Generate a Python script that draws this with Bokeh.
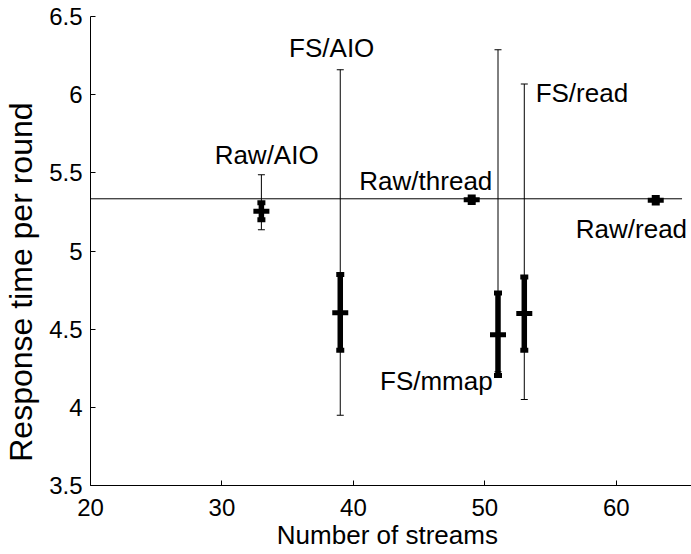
from bokeh.plotting import figure
from bokeh.models import ColumnDataSource, LabelSet, FixedTicker, Range1d
from bokeh.core.properties import value
from bokeh.embed import file_html
from bokeh.resources import INLINE

# ---- data ----
methods = ["Raw/AIO", "FS/AIO", "Raw/thread", "FS/mmap", "FS/read", "Raw/read"]
streams = [33, 39, 49, 51, 53, 63]
mean_time = [5.255, 4.605, 5.328, 4.465, 4.600, 5.325]
min_time = [5.136, 3.950, 5.312, 4.227, 4.050, 5.308]
max_time = [5.487, 6.160, 5.344, 6.287, 6.068, 5.342]
std_low = [5.200, 4.365, 5.310, 4.204, 4.365, 5.307]
std_high = [5.308, 4.849, 5.346, 4.731, 4.833, 5.343]
reference_time = 5.334
reference_x = [20, 65]

x_ticks = [20, 30, 40, 50, 60]
y_ticks = [3.5, 4, 4.5, 5, 5.5, 6, 6.5]

# label anchor positions (data units)
label_x = [33.4, 38.35, 45.51, 46.31, 57.38, 61.15]
label_y = [5.557, 6.238, 5.391, 4.114, 5.951, 5.085]

src = ColumnDataSource(dict(
    x=streams, mean=mean_time, lo=min_time, hi=max_time,
    slo=std_low, shi=std_high,
))
lab_src = ColumnDataSource(dict(x=label_x, y=label_y, text=methods))

p = figure(width=691, height=554, output_backend="svg", toolbar_location=None,
           x_range=Range1d(20, 65.72), y_range=Range1d(3.5, 6.5),
           min_border_left=88, min_border_right=0, min_border_top=16,
           min_border_bottom=69)
p.outline_line_color = None
p.grid.visible = False
p.background_fill_color = "white"
p.border_fill_color = "white"

FONT = "Liberation Sans"
for ax in (p.xaxis[0], p.yaxis[0]):
    ax.major_tick_in = 5
    ax.major_tick_out = 0
    ax.minor_tick_line_color = None
    ax.axis_line_color = "black"
    ax.major_tick_line_color = "black"
    ax.major_label_text_font = FONT
    ax.major_label_text_font_size = "24px"
    ax.major_label_text_color = "black"
    ax.axis_label_text_font = FONT
    ax.axis_label_text_font_style = "normal"
    ax.axis_label_text_color = "black"

p.xaxis.ticker = FixedTicker(ticks=x_ticks)
p.yaxis.ticker = FixedTicker(ticks=y_ticks)
p.xaxis.major_label_overrides = {t: f"{t:g}" for t in x_ticks}
p.yaxis.major_label_overrides = {t: f"{t:g}" for t in y_ticks}
p.xaxis.major_label_standoff = 13
p.yaxis.major_label_standoff = 8

p.xaxis.axis_label = "Number of streams\u00a0"
p.xaxis.axis_label_text_font_size = "26px"
p.xaxis.axis_label_standoff = 1
p.yaxis.axis_label = "Response time per round" + "\u00a0" * 7
p.yaxis.axis_label_text_font_size = "32px"
p.yaxis.axis_label_standoff = 7

# reference line
p.line(x=reference_x, y=[reference_time] * len(reference_x),
       line_color="black", line_width=1)

# thin min/max whiskers
p.segment(x0="x", y0="lo", x1="x", y1="hi", source=src,
          line_color="black", line_width=1)
p.rect(x="x", y="lo", width=7, height=1, width_units="screen",
       height_units="screen", source=src, fill_color="black", line_color=None)
p.rect(x="x", y="hi", width=7, height=1, width_units="screen",
       height_units="screen", source=src, fill_color="black", line_color=None)

# thick bars
p.segment(x0="x", y0="slo", x1="x", y1="shi", source=src,
          line_color="black", line_width=5.5)
p.rect(x="x", y="slo", width=8, height=5, width_units="screen",
       height_units="screen", source=src, fill_color="black", line_color=None)
p.rect(x="x", y="shi", width=8, height=5, width_units="screen",
       height_units="screen", source=src, fill_color="black", line_color=None)

# mean ticks
p.rect(x="x", y="mean", width=16, height=5, width_units="screen",
       height_units="screen", source=src, fill_color="black", line_color=None)

# method labels
p.add_layout(LabelSet(x="x", y="y", text="text", source=lab_src,
                      text_align="center", text_baseline="alphabetic",
                      text_font=value(FONT), text_font_size="26px",
                      text_color="black"))

open("out.html", "w").write(file_html(p, INLINE))
